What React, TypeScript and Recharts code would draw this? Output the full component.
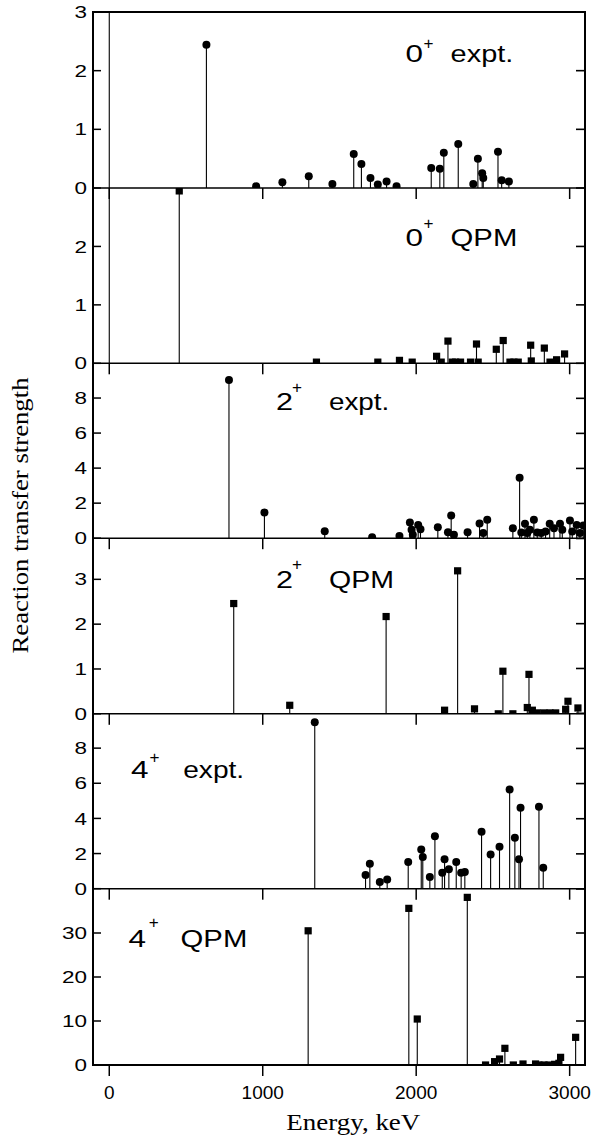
import React from "react";
import { ComposedChart, Scatter, XAxis, YAxis, ReferenceLine } from "recharts";

const energyTicks = [0, 1000, 2000, 3000];
const energyDomain = [-106, 3100];

// 0+ expt.
const e0Energy = [0, 633, 957, 1128, 1300, 1454, 1593, 1643, 1702, 1750, 1807, 1872, 2098, 2154, 2180, 2274, 2372, 2402, 2430, 2437, 2533, 2557, 2604];
const e0Strength = [20, 2.44, 0.03, 0.1, 0.2, 0.07, 0.58, 0.41, 0.17, 0.06, 0.11, 0.03, 0.34, 0.33, 0.6, 0.75, 0.07, 0.5, 0.25, 0.17, 0.62, 0.13, 0.11];

// 0+ QPM
const q0Energy = [0, 456, 1350, 1750, 1891, 1974, 2133, 2163, 2207, 2235, 2257, 2289, 2354, 2393, 2404, 2522, 2567, 2611, 2637, 2665, 2746, 2750, 2835, 2872, 2915, 2967];
const q0Strength = [20, 2.95, 0.02, 0.02, 0.05, 0.02, 0.12, 0.02, 0.38, 0.02, 0.02, 0.02, 0.02, 0.33, 0.02, 0.24, 0.39, 0.02, 0.02, 0.02, 0.31, 0.04, 0.26, 0.02, 0.06, 0.16];

// 2+ expt.
const e2Energy = [780, 1011, 1404, 1713, 1891, 1959, 1970, 1978, 2013, 2028, 2141, 2207, 2228, 2246, 2335, 2413, 2437, 2463, 2630, 2674, 2685, 2709, 2724, 2741, 2767, 2789, 2815, 2843, 2870, 2898, 2937, 2952, 3002, 3017, 3046, 3067, 3089];
const e2Strength = [9.03, 1.47, 0.4, 0.06, 0.13, 0.9, 0.48, 0.19, 0.76, 0.51, 0.63, 0.34, 1.3, 0.19, 0.34, 0.84, 0.29, 1.05, 0.57, 3.45, 0.32, 0.82, 0.29, 0.48, 1.05, 0.32, 0.29, 0.38, 0.82, 0.57, 0.82, 0.48, 1.01, 0.38, 0.76, 0.29, 0.72];

// 2+ QPM
const q2Energy = [811, 1176, 1804, 2185, 2270, 2380, 2535, 2565, 2630, 2724, 2735, 2757, 2789, 2833, 2872, 2909, 2974, 2989, 3054];
const q2Strength = [2.46, 0.19, 2.17, 0.08, 3.19, 0.11, 0.0, 0.95, 0.0, 0.14, 0.88, 0.08, 0.02, 0.02, 0.02, 0.02, 0.1, 0.28, 0.13];

// 4+ expt.
const e4Energy = [1339, 1670, 1698, 1763, 1811, 1948, 2033, 2043, 2089, 2122, 2170, 2185, 2213, 2261, 2293, 2317, 2426, 2485, 2543, 2609, 2643, 2670, 2680, 2800, 2828];
const e4Strength = [9.47, 0.78, 1.42, 0.38, 0.53, 1.52, 2.23, 1.8, 0.66, 2.99, 0.91, 1.67, 1.1, 1.52, 0.91, 0.95, 3.24, 1.95, 2.39, 5.64, 2.9, 1.67, 4.6, 4.66, 1.19];

// 4+ QPM
const q4Energy = [1296, 1952, 2007, 2333, 2452, 2511, 2543, 2578, 2633, 2696, 2778, 2800, 2833, 2865, 2902, 2930, 2941, 3039];
const q4Strength = [30.5, 35.6, 10.45, 38.1, 0.0, 0.76, 1.36, 3.79, 0.0, 0.23, 0.23, 0.0, 0.0, 0.0, 0.15, 0.38, 1.74, 6.29];

const toPoints = (xs: number[], ys: number[]) => xs.map((x, i) => ({ x, y: ys[i] }));

const panels = [
  { key: "e0", data: toPoints(e0Energy, e0Strength), marker: "circle", yMax: 3, yTicks: [0, 1, 2, 3] },
  { key: "q0", data: toPoints(q0Energy, q0Strength), marker: "square", yMax: 3, yTicks: [0, 1, 2] },
  { key: "e2", data: toPoints(e2Energy, e2Strength), marker: "circle", yMax: 10, yTicks: [0, 2, 4, 6, 8] },
  { key: "q2", data: toPoints(q2Energy, q2Strength), marker: "square", yMax: 3.9, yTicks: [0, 1, 2, 3] },
  { key: "e4", data: toPoints(e4Energy, e4Strength), marker: "circle", yMax: 10, yTicks: [0, 2, 4, 6, 8] },
  { key: "q4", data: toPoints(q4Energy, q4Strength), marker: "square", yMax: 40, yTicks: [0, 10, 20, 30] },
];

// layout
const panelTops = [12, 188, 363.3, 538.5, 713.3, 889, 1065];
const plotLeft = 93;
const plotRight = 585;
const padTop = 20;
const axisStroke = { stroke: "#000", strokeWidth: 1.5 };
const sans = "'Liberation Sans', Arial, sans-serif";
const serif = "'Liberation Serif', 'Times New Roman', serif";

function LeftTick(props: any) {
  const { x, y, payload } = props;
  const s = String(payload.value);
  return (
    <g>
      <line x1={x} x2={x + 8} y1={y} y2={y} stroke="#000" strokeWidth={1.5} />
      <text
        x={x - 6}
        y={y}
        dy="0.36em"
        textAnchor="end"
        fontFamily={sans}
        fontSize={17}
        textLength={s.length * 12.5}
        lengthAdjust="spacingAndGlyphs"
        fill="#000"
      >
        {s}
      </text>
    </g>
  );
}

function BottomTick(props: any) {
  const { x, y, payload, showLabel } = props;
  return (
    <g>
      <line x1={x} x2={x} y1={y} y2={y + 11} stroke="#000" strokeWidth={1.5} />
      {showLabel && (
        <text x={x} y={y + 33.5} textAnchor="middle" fontFamily={sans} fontSize={19} fill="#000">
          {payload.value}
        </text>
      )}
    </g>
  );
}

const Dot = (props: any) => <circle cx={props.cx} cy={props.cy} r={4} fill="#000" />;
const Square = (props: any) => (
  <rect x={props.cx - 3.6} y={props.cy - 3.6} width={7.2} height={7.2} fill="#000" />
);

const panelLabels = [
  { level: "0", word: "expt.", dx: 405.5, plusX: 423.5, wx: 450.6, base: 61.7, plusBase: 48.5, dl: 17.5, wl: 62.7 },
  { level: "0", word: "QPM", dx: 405.5, plusX: 423.5, wx: 450.6, base: 245.7, plusBase: 228.5, dl: 17.5, wl: 66.7 },
  { level: "2", word: "expt.", dx: 276, plusX: 292, wx: 329, base: 410, plusBase: 393.2, dl: 17, wl: 60.3 },
  { level: "2", word: "QPM", dx: 276, plusX: 292, wx: 329, base: 587.7, plusBase: 570.2, dl: 17, wl: 65 },
  { level: "4", word: "expt.", dx: 131, plusX: 149.5, wx: 183.2, base: 778.3, plusBase: 762.8, dl: 17.5, wl: 61 },
  { level: "4", word: "QPM", dx: 128.5, plusX: 148.8, wx: 180.6, base: 946.7, plusBase: 928.2, dl: 17.5, wl: 66.7 },
];

export default function App() {
  return (
    <div style={{ position: "absolute", left: 0, top: 0, width: 602, height: 1137, background: "#fff" }}>
      {panels.map((p, i) => {
        const h = panelTops[i + 1] - panelTops[i];
        const last = i === panels.length - 1;
        return (
          <div key={p.key} style={{ position: "absolute", left: 0, top: panelTops[i] - padTop }}>
            <ComposedChart
              width={602}
              height={h + padTop + 40}
              data={p.data}
              margin={{ top: padTop, right: 602 - plotRight, bottom: 0, left: 0 }}
            >
              <XAxis
                dataKey="x"
                type="number"
                domain={energyDomain}
                ticks={energyTicks}
                interval={0}
                allowDataOverflow
                height={40}
                tickSize={0}
                tickMargin={0}
                tickLine={false}
                axisLine={axisStroke}
                tick={<BottomTick showLabel={last} />}
              />
              <YAxis
                type="number"
                domain={[0, p.yMax]}
                ticks={p.yTicks}
                interval={0}
                allowDataOverflow
                width={plotLeft}
                tickSize={0}
                tickMargin={0}
                tickLine={false}
                axisLine={axisStroke}
                tick={<LeftTick />}
              />
              {p.data.map((d, j) => (
                <ReferenceLine
                  key={"stem" + j}
                  segment={[
                    { x: d.x, y: 0 },
                    { x: d.x, y: Math.min(d.y, p.yMax) },
                  ]}
                  stroke="#000"
                  strokeWidth={1.1}
                />
              ))}
              <Scatter
                dataKey="y"
                isAnimationActive={false}
                shape={p.marker === "circle" ? Dot : Square}
              />
            </ComposedChart>
          </div>
        );
      })}
      {/* outer frame as a bordered box */}
      <div
        style={{
          position: "absolute",
          left: plotLeft - 1,
          top: panelTops[0] - 1,
          width: plotRight - plotLeft + 2,
          height: panelTops[6] - panelTops[0] + 2,
          border: "2px solid #000",
          boxSizing: "border-box",
          pointerEvents: "none",
        }}
      />
      <svg
        width={602}
        height={1137}
        style={{ position: "absolute", left: 0, top: 0, pointerEvents: "none" }}
      >
        {panels.map((p, i) => {
          const top = panelTops[i];
          const h = panelTops[i + 1] - top;
          return p.yTicks.map((t) => {
            const y = top + h - (t / p.yMax) * h;
            return (
              <line
                key={p.key + t}
                x1={plotRight - 9}
                x2={plotRight}
                y1={y}
                y2={y}
                stroke="#000"
                strokeWidth={1.6}
              />
            );
          });
        })}
        {panelLabels.map((l, i) => (
          <g key={i} fill="#000" fontFamily={sans}>
            <text x={l.dx} y={l.base} fontSize={23.3} textLength={l.dl} lengthAdjust="spacingAndGlyphs">
              {l.level}
            </text>
            <text x={l.plusX} y={l.plusBase} fontSize={17} textLength={10} lengthAdjust="spacingAndGlyphs">
              +
            </text>
            <text x={l.wx} y={l.base} fontSize={23} textLength={l.wl} lengthAdjust="spacingAndGlyphs">
              {l.word}
            </text>
          </g>
        ))}
        <text
          x={353.3}
          y={1130}
          textAnchor="middle"
          fontFamily={serif}
          fontSize={22.7}
          textLength={134}
          lengthAdjust="spacingAndGlyphs"
          fill="#000"
        >
          Energy, keV
        </text>
        <text
          x={28}
          y={515.5}
          transform="rotate(-90, 28, 515.5)"
          textAnchor="middle"
          fontFamily={serif}
          fontSize={22.7}
          textLength={276}
          lengthAdjust="spacingAndGlyphs"
          fill="#000"
        >
          Reaction transfer strength
        </text>
      </svg>
    </div>
  );
}
